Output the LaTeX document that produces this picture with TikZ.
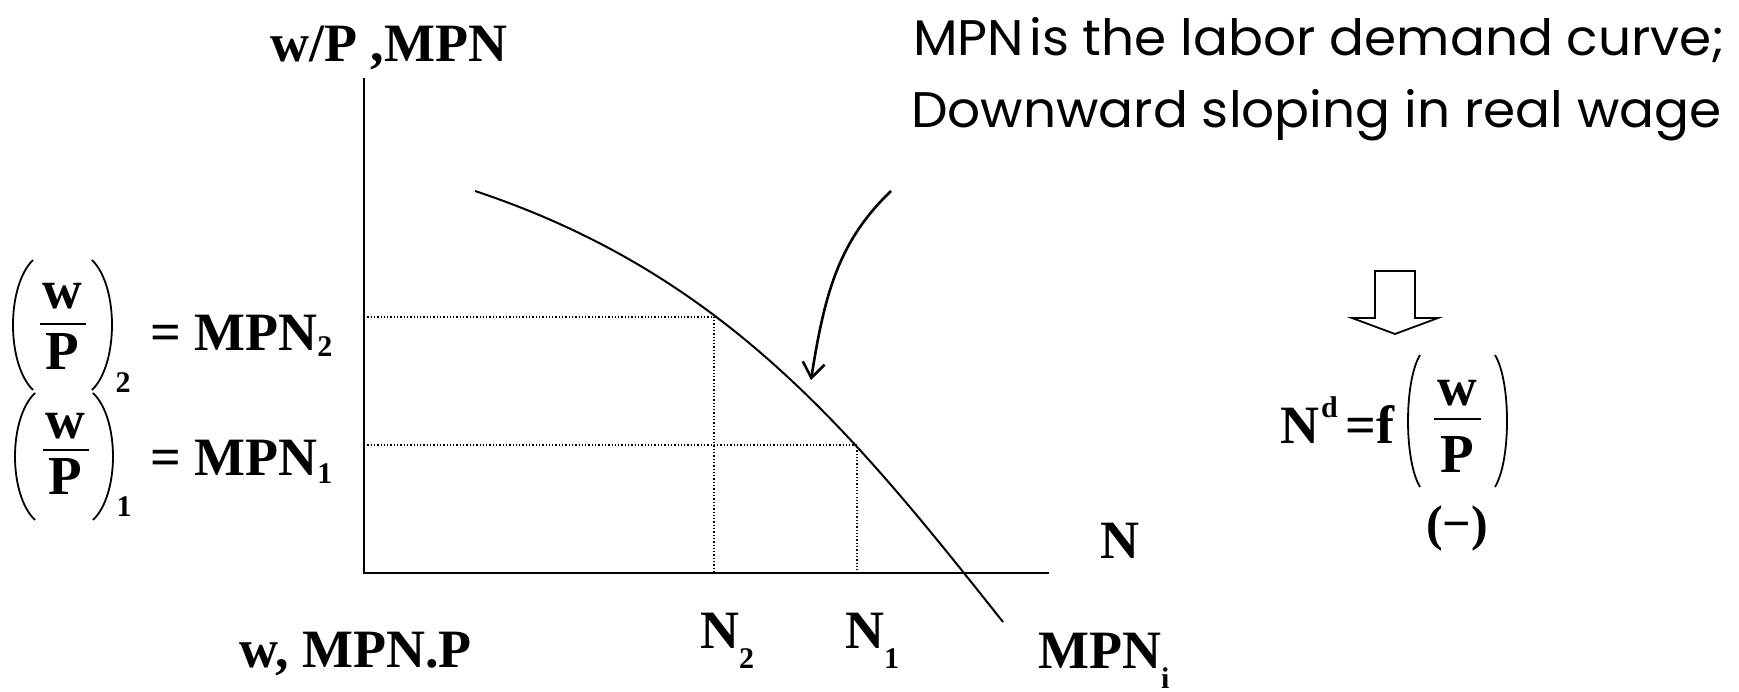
\documentclass[tikz,border=0pt]{standalone}
\usepackage{fontspec}
\setmainfont{Liberation Serif}
\newfontfamily\gothic{Poppins}
\usetikzlibrary{arrows.meta}
\newcommand\myparen[4]{%
  \draw[paren] (#1,#3) .. controls ({(4*#2-#1)/3},{#3+0.2*(#4-#3)}) and ({(4*#2-#1)/3},{#4-0.2*(#4-#3)}) .. (#1,#4);}
\begin{document}
\begin{tikzpicture}[x=1pt,y=-1pt,
  lbl/.style={inner sep=0pt, font=\fontsize{54}{54}\selectfont\bfseries},
  frc/.style={inner sep=0pt, anchor=base, font=\fontsize{55}{55}\selectfont\bfseries},
  sub/.style={inner sep=0pt, font=\fontsize{30}{30}\selectfont\bfseries},
  head/.style={inner sep=0pt, anchor=base west, font=\fontsize{50}{50}\selectfont\gothic},
  axis/.style={line width=2pt},
  guide/.style={line width=1.3pt, dash pattern=on 1.3pt off 2pt},
  paren/.style={line width=1.8pt},
  bar/.style={line width=2.4pt},
  curve/.style={line width=2pt},
  pointer/.style={line width=2.6pt, -{Straight Barb[length=15pt,width=22pt]}},
  ]
\useasboundingbox (0,0) rectangle (1739,692);
% axes
\coordinate (O) at (364,573);
\coordinate (Ytop) at (364,78);
\coordinate (Xend) at (1049,573);
\draw[axis] (Ytop) -- (O) -- (Xend);
% curve
\coordinate (c0) at (475,191);
\coordinate (c5) at (1003,622);
\draw[curve] (c0) .. controls (725,274) and (853,433) .. (c5);
% guides
\coordinate (c2) at (714,317);
\coordinate (c3) at (857,445);
\coordinate (g2y) at (364,317);
\coordinate (g2x) at (714,573);
\coordinate (g1y) at (364,445);
\coordinate (g1x) at (857,573);
\draw[guide] (g2y) -- (c2) -- (g2x);
\draw[guide] (g1y) -- (c3) -- (g1x);
% pointer arrow
\coordinate (aS) at (891,191);
\coordinate (aT) at (811,380);
\draw[pointer] (aS) .. controls (840,240) and (825,290) .. (aT);
% block arrow
\draw[line width=1.8pt, line join=miter] (1375,271) -- (1375,318) -- (1352,318) -- (1395,334) -- (1438,318) -- (1415,318) -- (1415,271) -- cycle;
% heading
\node[head] (h1) at (913,56) {\scalebox{1.035}[1]{MPN\hspace{0.1em}is the labor demand curve;}};
\node[head] (h2) at (911,128) {\scalebox{1.035}[1]{Downward sloping in real wage}};
% axis labels
\node[lbl, anchor=base west] (ylab) at (270,62) {w/P ,MPN};
\node[lbl, anchor=base west] (wlab) at (239,667) {w, MPN.P};
\node[lbl, anchor=base west] (nlab) at (1100,558) {N};
\node[lbl, anchor=base west] (n2) at (700,648) {N\raisebox{-20pt}{\fontsize{30}{30}\selectfont 2}};
\node[lbl, anchor=base west] (n1) at (845,648) {N\raisebox{-20pt}{\fontsize{30}{30}\selectfont 1}};
\node[lbl, anchor=base west] (mpni) at (1038,668) {MPN\raisebox{-20pt}{\fontsize{30}{30}\selectfont i}};
% left labels, group 2
\myparen{33}{13}{260}{390}
\myparen{92}{112}{260}{390}
\node[frc] (w2) at (62,309) {w};
\draw[bar] (40,324) -- (86,324);
\node[frc] (p2) at (62,369) {P};
\node[sub] (s2) at (123,383) {2};
\node[lbl, anchor=base west] (eq2) at (150,350) {= MPN\raisebox{-6pt}{\fontsize{30}{30}\selectfont 2}};
% group 1
\myparen{35}{15}{393}{520}
\myparen{93}{113}{393}{520}
\node[frc] (w1) at (65,438) {w};
\draw[bar] (43,450) -- (89,450);
\node[frc] (p1) at (65,494) {P};
\node[sub] (s1) at (124,507) {1};
\node[lbl, anchor=base west] (eq1) at (150,475) {= MPN\raisebox{-8pt}{\fontsize{30}{30}\selectfont 1}};
% N^d = f(w/P)
\node[lbl, anchor=base west] (nd) at (1280,443) {N};
\node[sub, anchor=base west] (sd) at (1321,417) {d};
\node[lbl, anchor=base west] (eqf) at (1345,443) {=f};
\myparen{1420}{1408}{355}{487}
\myparen{1495}{1507}{355}{487}
\node[frc] (w3) at (1457,405) {w};
\draw[bar] (1434,419) -- (1481,419);
\node[frc] (p3) at (1457,472) {P};
\node[inner sep=0pt, anchor=base, font=\fontsize{50}{50}\selectfont\bfseries] (sign) at (1457,540) {(−)};
\end{tikzpicture}
\end{document}
